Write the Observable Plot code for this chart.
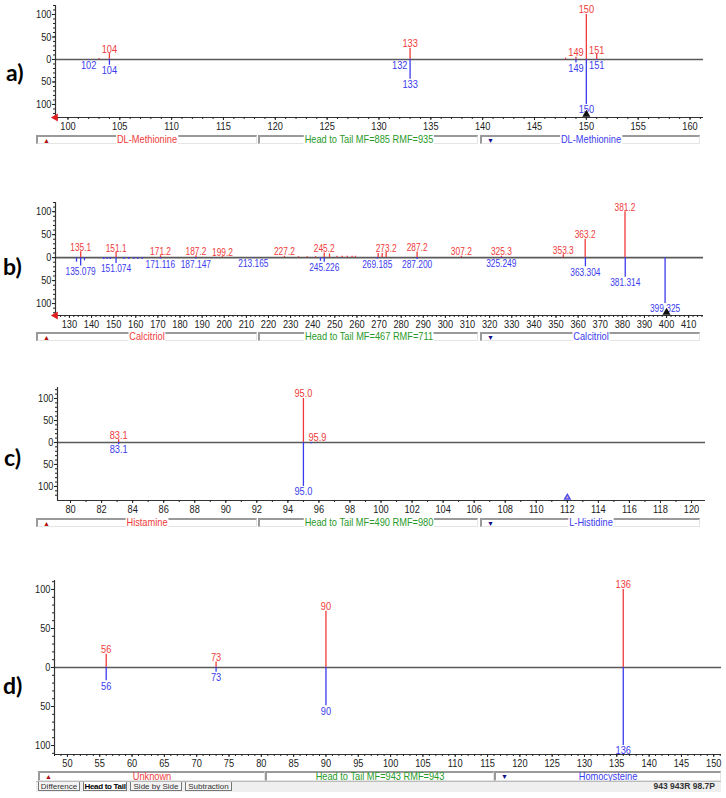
<!DOCTYPE html>
<html><head><meta charset="utf-8">
<script src="https://cdn.jsdelivr.net/npm/d3@7"></script>
<script src="https://cdn.jsdelivr.net/npm/@observablehq/plot@0.6"></script>
<style>
body{margin:0;background:#fff;}
#root{position:relative;width:726px;height:798px;overflow:hidden;font-family:"Liberation Sans",Arial,sans-serif;}
.panel{position:absolute;left:0;}
.plabel{position:absolute;font-family:Lato,"Open Sans",sans-serif;font-weight:700;font-size:23px;line-height:23px;color:#000;}
.seg{position:absolute;box-sizing:border-box;border-top:2px solid #9a9a9a;border-left:2px solid #9a9a9a;border-bottom:1px solid #e4e4e4;border-right:1px solid #e4e4e4;background:#fff;}
.seg span{position:absolute;left:50%;transform:translateX(-50%) scaleX(0.84);top:-3px;font-size:11px;line-height:11px;background:#fff;padding:0 1px;white-space:nowrap;}
.tri{position:absolute;font-size:7px;line-height:7px;}
.tabs{position:absolute;left:36px;top:781px;width:685px;height:10px;background:#efefef;border-top:1px solid #bbb;}
.tab{position:absolute;top:0;height:9px;box-sizing:border-box;font-size:8px;line-height:9px;border-left:1px solid #777;border-right:1px solid #777;border-bottom:1px solid #777;background:#f4f4f4;white-space:nowrap;text-align:center;overflow:hidden;}
</style></head>
<body><div id="root"></div>
<script>
// ---------- data ----------
// panel a : DL-Methionine vs DL-Methionine
const aTopMz = [103, 104, 133, 148, 149, 150, 151];
const aTopInt = [2, 13, 25, 3, 5, 100, 11];
const aTopLabel = ["", "104", "133", "", "149", "150", "151"];
const aBotMz = [102, 104, 132, 133, 149, 150, 151];
const aBotInt = [1, 13, 1, 44, 8, 100, 2];
const aBotLabel = ["102", "104", "132", "133", "149", "150", "151"];
const aXTicks = [100, 105, 110, 115, 120, 125, 130, 135, 140, 145, 150, 155, 160];

// panel b : Calcitriol vs Calcitriol
const bTopMz = [135.1, 151.1, 171.2, 187.2, 199.2, 227.2, 233.6, 237.5, 241.3, 245.2, 247.6, 251.0, 253.3, 255.6, 257.8, 259.3, 269.6, 271.4, 273.2, 287.2, 307.2, 325.3, 353.3, 363.2, 381.2];
const bTopInt = [13, 11, 4, 4, 2, 3, 2, 2, 2, 10, 8, 3, 3, 3, 3, 3, 9, 9, 11, 12, 3, 3, 6, 40, 100];
const bTopLabel = ["135.1", "151.1", "171.2", "187.2", "199.2", "227.2", "", "", "", "245.2", "", "", "", "", "", "", "", "", "273.2", "287.2", "307.2", "325.3", "353.3", "363.2", "381.2"];
const bBotMz = [133.2, 135.079, 136.8, 145.5, 147.0, 148.5, 151.074, 154.6, 156.8, 159.1, 160.9, 162.9, 171.116, 187.147, 213.165, 243.5, 245.226, 269.185, 287.2, 325.249, 363.304, 381.314, 399.325];
const bBotInt = [10, 18, 7, 4, 4, 4, 13, 4, 4, 4, 4, 4, 3, 3, 2, 8, 10, 3, 4, 2, 20, 43, 100];
const bBotLabel = ["", "135.079", "", "", "", "", "151.074", "", "", "", "", "", "171.116", "187.147", "213.165", "", "245.226", "269.185", "287.200", "325.249", "363.304", "381.314", "399.325"];
const bXTicks = [130, 140, 150, 160, 170, 180, 190, 200, 210, 220, 230, 240, 250, 260, 270, 280, 290, 300, 310, 320, 330, 340, 350, 360, 370, 380, 390, 400, 410];

// panel c : Histamine vs L-Histidine
const cTopMz = [83.1, 95.0, 95.9];
const cTopInt = [6, 100, 1];
const cTopLabel = ["83.1", "95.0", "95.9"];
const cBotMz = [83.1, 95.0, 95.5];
const cBotInt = [5, 100, 3];
const cBotLabel = ["83.1", "95.0", ""];
const cXTicks = [80, 82, 84, 86, 88, 90, 92, 94, 96, 98, 100, 102, 104, 106, 108, 110, 112, 114, 116, 118, 120];

// panel d : Unknown vs Homocysteine
const dTopMz = [56, 73, 90, 136];
const dTopInt = [17, 7, 72, 100];
const dTopLabel = ["56", "73", "90", "136"];
const dBotMz = [56, 73, 90, 136];
const dBotInt = [17, 6, 49, 100];
const dBotLabel = ["56", "73", "90", "136"];
const dXTicks = [50, 55, 60, 65, 70, 75, 80, 85, 90, 95, 100, 105, 110, 115, 120, 125, 130, 135, 140, 145, 150];

const yTicks = [-100, -50, 0, 50, 100];
const panelLetters = ["a)", "b)", "c)", "d)"];
const libNames = ["DL-Methionine", "Calcitriol", "Histamine", "Unknown"];
const matchTexts = ["Head to Tail MF=885 RMF=935", "Head to Tail MF=467 RMF=711", "Head to Tail MF=490 RMF=980", "Head to Tail MF=943 RMF=943"];
const hitNames = ["DL-Methionine", "Calcitriol", "L-Histidine", "Homocysteine"];
const tabNames = ["Difference", "Head to Tail", "Side by Side", "Subtraction"];
const statusText = "943 943R 98.7P";
const markerMz = [150, 400, 112];

// ---------- drawing ----------
const RED = "#ee3b3b", BLUE = "#3b3bee", GREEN = "#2a9a2a";
const FONT = "'Liberation Sans',Arial,sans-serif";
const root = document.getElementById("root");

function rows(mz, v, lab, sign) {
  return mz.map((m, i) => ({mz: m, v: sign * v[i], label: lab[i]}));
}
function range(a, b, s) { const r = []; for (let x = a; x <= b + 1e-9; x += s) r.push(+x.toFixed(3)); return r; }

function condense(svg, kAxis, kPeak) {
  svg.querySelectorAll("text").forEach(t => {
    const L = t.getComputedTextLength();
    const g = t.closest("g[fill]");
    const f = g ? g.getAttribute("fill") : "";
    const k = (f === RED || f === BLUE) ? kPeak : kAxis;
    if (L > 0) { t.setAttribute("textLength", (L * k).toFixed(2)); t.setAttribute("lengthAdjust", "spacingAndGlyphs"); }
  });
}

function panel(c) {
  const top = rows(c.topMz, c.topInt, c.topLabel, 1);
  const bot = rows(c.botMz, c.botInt, c.botLabel, -1);
  const [x0, x1] = c.xDomain, [y0, y1] = c.yDomain;
  const marks = [
    Plot.ruleY([0], {stroke: "#5a5a5a", strokeWidth: 1.6}),
    Plot.ruleX(top, {x: "mz", y1: 0, y2: "v", stroke: RED, strokeWidth: 1.3}),
    Plot.ruleX(bot, {x: "mz", y1: 0, y2: "v", stroke: BLUE, strokeWidth: 1.3}),
    Plot.text(top.filter(d => d.label), {x: "mz", y: "v", text: "label", fill: RED, lineAnchor: "bottom", dy: -1, fontSize: 11}),
    Plot.text(bot.filter(d => d.label), {x: "mz", y: "v", text: "label", fill: BLUE, lineAnchor: "top", dy: 1, fontSize: 11}),
    Plot.ruleX([x0], {stroke: "#333", strokeWidth: 1.2}),
    Plot.ruleY([y0], {stroke: "#333", strokeWidth: 1.2}),
    Plot.axisY({ticks: yTicks, tickFormat: d => Math.abs(d), tickSize: 3, tickPadding: 1, label: null, fontSize: 11}),
    Plot.axisY({ticks: range(-120, 120, 10).filter(v => v >= y0 && v <= y1), tickFormat: () => "", tickSize: 2, label: null}),
    Plot.axisX({ticks: c.xTicks, tickSize: 3, tickPadding: 2, label: null, fontSize: 11}),
    Plot.axisX({ticks: range(Math.ceil(x0 / c.minor) * c.minor, x1, c.minor), tickFormat: () => "", tickSize: 2, label: null})
  ];
  if (c.leftArrow) marks.push(Plot.dot([x0], {x: d => d, y: y0, symbol: "triangle", r: 3, fill: "#e02020", stroke: "none", rotate: -90}));
  if (c.marker != null) marks.push(Plot.dot([c.marker], {x: d => d, y: y0, symbol: "triangle", r: c.markerR, fill: c.markerFill, stroke: c.markerStroke, dy: -3}));
  const svg = Plot.plot({
    width: 726, height: c.height,
    marginTop: c.mt, marginBottom: c.mb, marginLeft: c.ml, marginRight: c.mr,
    x: {domain: c.xDomain}, y: {domain: c.yDomain},
    style: {fontFamily: FONT, fontSize: "11px", background: "transparent", overflow: "visible", color: "#222"},
    marks
  });
  const wrap = document.createElement("div");
  wrap.className = "panel";
  wrap.style.top = c.top + "px";
  wrap.appendChild(svg);
  root.appendChild(wrap);
  condense(svg, 0.84, c.peakK);
}

function label(txt, x, y) {
  const d = document.createElement("div");
  d.className = "plabel"; d.textContent = txt;
  d.style.left = x + "px"; d.style.top = y + "px";
  root.appendChild(d);
}

function seg(x0, x1, y, h, txt, color, tri, triColor, inside) {
  const s = document.createElement("div");
  s.className = "seg";
  s.style.left = x0 + "px"; s.style.width = (x1 - x0) + "px";
  s.style.top = y + "px"; s.style.height = h + "px";
  const sp = document.createElement("span");
  sp.textContent = txt; sp.style.color = color;
  if (inside) { sp.style.top = "-2px"; sp.style.background = "transparent"; }
  s.appendChild(sp);
  if (tri) {
    const t = document.createElement("div");
    t.className = "tri"; t.textContent = tri; t.style.color = triColor;
    t.style.left = "5px"; t.style.top = "0px";
    s.appendChild(t);
  }
  root.appendChild(s);
}

function bar(i, y) {
  seg(36, 257, y, 9, libNames[i], RED, "▲", "#b01010");
  seg(258, 478, y, 9, matchTexts[i], GREEN, null);
  seg(480, 700, y, 9, hitNames[i], BLUE, "▼", "#10108a");
}

panel({top: 0, height: 132, mt: 5, mb: 15, ml: 55, mr: 23, xDomain: [98.8, 161.3], yDomain: [-129, 120],
  topMz: aTopMz, topInt: aTopInt, topLabel: aTopLabel, botMz: aBotMz, botInt: aBotInt, botLabel: aBotLabel,
  xTicks: aXTicks, minor: 1, peakK: 0.84, leftArrow: true, marker: markerMz[0], markerR: 3, markerFill: "#111", markerStroke: "none"});
panel({top: 195, height: 137, mt: 7, mb: 17, ml: 55, mr: 23, xDomain: [123.7, 416.7], yDomain: [-126, 120],
  topMz: bTopMz, topInt: bTopInt, topLabel: bTopLabel, botMz: bBotMz, botInt: bBotInt, botLabel: bBotLabel,
  xTicks: bXTicks, minor: 2, peakK: 0.76, leftArrow: true, marker: markerMz[1], markerR: 3, markerFill: "#111", markerStroke: "none"});
panel({top: 380, height: 137, mt: 7, mb: 17, ml: 57, mr: 21, xDomain: [79.16, 120.9], yDomain: [-132, 125],
  topMz: cTopMz, topInt: cTopInt, topLabel: cTopLabel, botMz: cBotMz, botInt: cBotInt, botLabel: cBotLabel,
  xTicks: cXTicks, minor: 1, peakK: 0.84, leftArrow: false, marker: markerMz[2], markerR: 2, markerFill: "#f3b0b0", markerStroke: "#5050ee"});
panel({top: 572, height: 198, mt: 8, mb: 16, ml: 54, mr: 5, xDomain: [48, 151.2], yDomain: [-111.5, 111.5],
  topMz: dTopMz, topInt: dTopInt, topLabel: dTopLabel, botMz: dBotMz, botInt: dBotInt, botLabel: dBotLabel,
  xTicks: dXTicks, minor: 1, peakK: 0.84, leftArrow: false, marker: null});

label(panelLetters[0], 6, 61);
label(panelLetters[1], 3, 255);
label(panelLetters[2], 4, 446);
label(panelLetters[3], 3, 674);

bar(0, 135);
bar(1, 332);
bar(2, 518);

// panel d status bar
seg(38, 265, 771, 10, libNames[3], RED, "▲", "#b01010", true);
seg(265, 494, 771, 10, matchTexts[3], GREEN, null, null, true);
seg(494, 721, 771, 10, hitNames[3], BLUE, "▼", "#10108a", true);

// tabs
const tabs = document.createElement("div");
tabs.className = "tabs";
root.appendChild(tabs);
const tabX = [2, 47, 94, 149];
const tabW = [42, 44, 52, 47];
tabNames.forEach((t, i) => {
  const d = document.createElement("div");
  d.className = "tab"; d.textContent = t;
  d.style.left = tabX[i] + "px"; d.style.width = tabW[i] + "px";
  if (i === 1) { d.style.fontWeight = "700"; d.style.background = "#fff"; d.style.color = "#000"; d.style.letterSpacing = "-0.3px"; }
  else d.style.color = "#333";
  tabs.appendChild(d);
});
const st = document.createElement("div");
st.textContent = statusText;
st.style.cssText = "position:absolute;right:6px;top:0px;font-size:8.5px;line-height:9px;font-weight:700;color:#333;";
tabs.appendChild(st);
</script>
</body></html>
